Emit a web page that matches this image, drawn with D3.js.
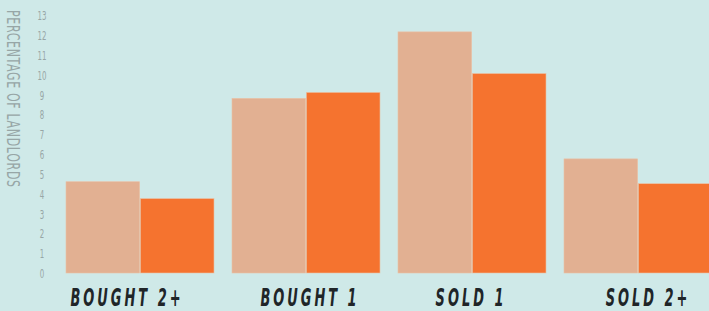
<!DOCTYPE html>
<html>
<head>
  <meta charset="utf-8">
  <style>
    body { margin: 0; background: #cfe9e8; }
    svg { display: block; }
  </style>
</head>
<body>
  <svg width="709" height="311"></svg>

  <script src="https://d3js.org/d3.v7.min.js"></script>
  <script>

  var categories = ["BOUGHT 2+", "BOUGHT 1", "SOLD 1", "SOLD 2+"];
  var seriesNames = ["a", "b"];
  var lightValues = [4.6, 8.8, 12.15, 5.75];   // light bars
  var darkValues  = [3.75, 9.1, 10.05, 4.5];   // orange bars
  var yTicks = d3.range(0, 14);

  var svg = d3.select("svg"),
      width = +svg.attr("width"),
      height = +svg.attr("height");

  var condensed = "'DejaVu Sans Condensed', 'DejaVu Sans', sans-serif";

  svg.append("rect").attr("width", width).attr("height", height).attr("fill", "#cfe9e8");

  var x = d3.scaleBand()
      .domain(categories)
      .range([57, 721])
      .paddingInner(0.1084)
      .paddingOuter(0.0542);

  var xs = d3.scaleBand()
      .domain(seriesNames)
      .range([0, x.bandwidth()])
      .paddingInner(0.01);

  var y = d3.scaleLinear()
      .domain([0, 13])
      .range([273, 15]);

  var colors = { a: "#e2b092", b: "#f5732f" };

  var rows = categories.map(function(c, i) {
    return { cat: c, vals: [{ k: "a", v: lightValues[i] }, { k: "b", v: darkValues[i] }] };
  });

  var g = svg.selectAll("g.grp")
    .data(rows)
    .enter().append("g")
      .attr("class", "grp")
      .attr("transform", function(d) { return "translate(" + x(d.cat) + ",0)"; });

  g.selectAll("rect")
    .data(function(d) { return d.vals; })
    .enter().append("rect")
      .attr("x", function(d) { return xs(d.k); })
      .attr("width", xs.bandwidth())
      .attr("y", function(d) { return y(d.v); })
      .attr("height", function(d) { return y(0) - y(d.v); })
      .attr("fill", function(d) { return colors[d.k]; })
      .attr("stroke", "#e9c2a6")
      .attr("stroke-width", 0.6);

  // y axis: only the numbers, tall and narrow
  var yAxis = d3.axisLeft(y).tickValues(yTicks).tickSize(0).tickPadding(0);
  var ya = svg.append("g").attr("transform", "translate(42,0)").call(yAxis);
  ya.select(".domain").remove();
  ya.selectAll(".tick text")
      .attr("fill", "#97a6a6")
      .attr("text-anchor", "middle")
      .attr("x", 0)
      .attr("dy", "0.36em")
      .attr("transform", "scale(0.6,1)")
      .style("font-family", condensed)
      .style("font-size", "13px");

  svg.append("text")
      .attr("transform", "translate(7,10) rotate(90) scale(0.68,1)")
      .attr("fill", "#97a6a6")
      .style("font-family", condensed)
      .style("font-size", "18px")
      .style("letter-spacing", "1px")
      .text("PERCENTAGE OF LANDLORDS");

  // category labels (slightly off-centre in the original)
  var nudge = [-13, 4, -1, 10];
  svg.append("g").selectAll("text")
    .data(categories)
    .enter().append("text")
      .attr("transform", function(d, i) {
        return "translate(" + (x(d) + x.bandwidth() / 2 + nudge[i]) + ",306) scale(0.6,1)";
      })
      .attr("text-anchor", "middle")
      .attr("fill", "#202528")
      .style("font-family", condensed)
      .style("font-style", "italic")
      .style("font-weight", "bold")
      .style("font-size", "24px")
      .style("letter-spacing", "5px")
      .text(function(d) { return d; });

  </script>
</body>
</html>
